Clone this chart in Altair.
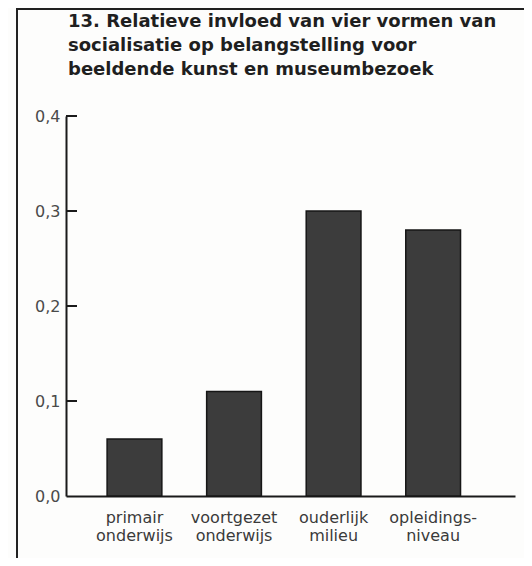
import altair as alt
import pandas as pd

categories = ["primair\nonderwijs", "voortgezet\nonderwijs", "ouderlijk\nmilieu", "opleidings-\nniveau"]
values = [0.06, 0.11, 0.30, 0.28]
y_ticks = [0.0, 0.1, 0.2, 0.3, 0.4]
title_lines = [
    "13. Relatieve invloed van vier vormen van",
    "socialisatie op belangstelling voor",
    "beeldende kunst en museumbezoek",
]

W, H = 449, 380
PL, PT = 58, 108
FONT = "DejaVu Sans"

df = pd.DataFrame({"cat": categories, "val": values})
ticks_df = pd.DataFrame({"t": y_ticks[1:]})
one = pd.DataFrame({"k": [0]})

x_enc = alt.X(
    "cat:N",
    sort=categories,
    scale=alt.Scale(paddingInner=0.45, paddingOuter=0.48, align=0.43),
    axis=alt.Axis(
        title=None, labelAngle=0, ticks=False, domainColor="#1a1a1a", domainWidth=2,
        labelExpr="split(datum.label, '\\n')", labelPadding=13, labelFontSize=16,
        labelFont=FONT, labelColor="#3a3a3a", labelLineHeight=18,
        labelBaseline="top",
    ),
)
y_enc = alt.Y(
    "val:Q",
    scale=alt.Scale(domain=[0, 0.4]),
    axis=alt.Axis(
        title=None, values=y_ticks, ticks=False, grid=False, domainColor="#1a1a1a",
        domainWidth=2, labelPadding=6, labelFontSize=16, labelFont=FONT,
        labelColor="#4a4a4a",
        labelExpr="replace(format(datum.value, '.1f'), '.', ',')",
    ),
)

bars = alt.Chart(df).mark_bar(color="#3c3c3c", stroke="#161616", strokeWidth=1.5).encode(
    x=x_enc, y=y_enc
)

tick_marks = alt.Chart(ticks_df).mark_rule(color="#1a1a1a", strokeWidth=2).encode(
    y=alt.Y("t:Q"), x=alt.value(0), x2=alt.value(11)
)

frame = alt.Chart(one).mark_rect(fill=None, stroke="#222222", strokeWidth=2).encode(
    x=alt.value(17 - 8 - PL), x2=alt.value(W + 80),
    y=alt.value(9 - 8 - PT), y2=alt.value(H + 120),
)

title = alt.Chart(one).mark_text(
    align="left", baseline="alphabetic", font=FONT, fontWeight="bold",
    fontSize=18, color="#1f1f1f", lineBreak="\n", lineHeight=24,
).encode(
    text=alt.value("\n".join(title_lines)),
    x=alt.value(68 - 8 - PL), y=alt.value(27 - 8 - PT),
)

chart = alt.layer(frame, bars, tick_marks, title).properties(
    width=W, height=H,
    autosize=alt.AutoSizeParams(type="none"),
    padding={"left": PL, "top": PT, "right": 516 - PL - W, "bottom": 550 - PT - H},
    background="#fdfdfc",
).configure_view(stroke=None)

chart.save("out.html", embed_options={"renderer": "svg", "actions": False})
